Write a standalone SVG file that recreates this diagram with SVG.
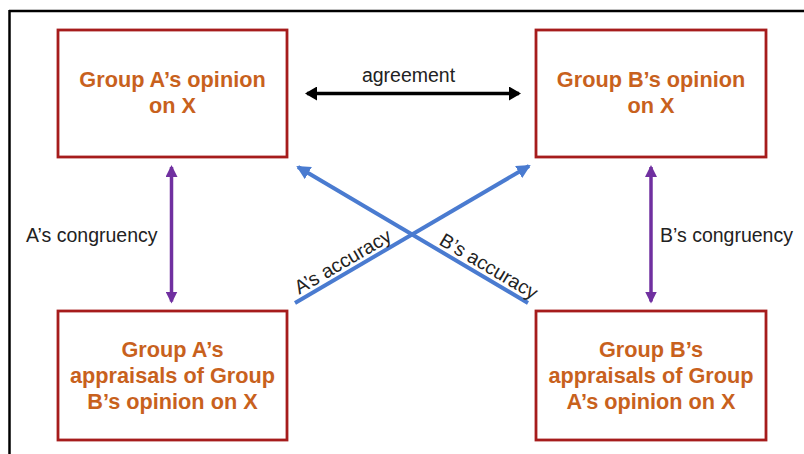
<svg xmlns="http://www.w3.org/2000/svg" width="804" height="454" viewBox="0 0 804 454">
<style>
.box{fill:#fff;stroke:#a61c1c;stroke-width:2.8}
.lbl{font-family:"Liberation Sans",Arial,sans-serif;font-weight:bold;font-size:21.7px;fill:#c8611d;text-anchor:middle}
.txt{font-family:"Liberation Sans",Arial,sans-serif;font-size:19.5px;fill:#222}
</style>
<defs>
<marker id="mk" viewBox="0 0 12 14" refX="10" refY="7" markerWidth="12" markerHeight="14" markerUnits="userSpaceOnUse" orient="auto-start-reverse"><path d="M0,0 L12,7 L0,14 Z" fill="#000"/></marker>
<marker id="mp" viewBox="0 0 12 12" refX="10" refY="6" markerWidth="12" markerHeight="12" markerUnits="userSpaceOnUse" orient="auto-start-reverse"><path d="M0,0 L12,6 L0,12 Z" fill="#7030a0"/></marker>
<marker id="mb" viewBox="0 0 14 14" refX="12" refY="7" markerWidth="14" markerHeight="14" markerUnits="userSpaceOnUse" orient="auto-start-reverse"><path d="M0,0 L14,7 L0,14 Z" fill="#4a7bd0"/></marker>
</defs>
<rect width="804" height="454" fill="#fff"/>
<g id="frame" stroke="#000" stroke-width="2.5" fill="none">
<line x1="9" y1="11" x2="804" y2="11"/>
<line x1="9.5" y1="10" x2="9.5" y2="454"/>
</g>
<g id="nodeA">
<rect class="box" x="58" y="30" width="229" height="127"/>
<text class="lbl" x="172.5" y="87">Group A’s opinion</text>
<text class="lbl" x="172.5" y="113">on X</text>
</g>
<g id="nodeB">
<rect class="box" x="536" y="30" width="230" height="127"/>
<text class="lbl" x="651" y="87">Group B’s opinion</text>
<text class="lbl" x="651" y="113">on X</text>
</g>
<g id="nodeAB">
<rect class="box" x="58" y="311" width="229" height="129"/>
<text class="lbl" x="172.5" y="357">Group A’s</text>
<text class="lbl" x="172.5" y="383">appraisals of Group</text>
<text class="lbl" x="172.5" y="409">B’s opinion on X</text>
</g>
<g id="nodeBA">
<rect class="box" x="536" y="311" width="230" height="129"/>
<text class="lbl" x="651" y="357">Group B’s</text>
<text class="lbl" x="651" y="383">appraisals of Group</text>
<text class="lbl" x="651" y="409">A’s opinion on X</text>
</g>
<g id="connectors" fill="none">
<line x1="307" y1="93.5" x2="519" y2="93.5" stroke="#000" stroke-width="3.5" marker-start="url(#mk)" marker-end="url(#mk)"/>
<line x1="171.5" y1="167" x2="171.5" y2="301.5" stroke="#7030a0" stroke-width="3.5" marker-start="url(#mp)" marker-end="url(#mp)"/>
<line x1="651" y1="167" x2="651" y2="301.5" stroke="#7030a0" stroke-width="3.5" marker-start="url(#mp)" marker-end="url(#mp)"/>
<line x1="295" y1="303" x2="529" y2="166" stroke="#4a7bd0" stroke-width="4" marker-end="url(#mb)"/>
<line x1="528" y1="303" x2="298" y2="167" stroke="#4a7bd0" stroke-width="4" marker-end="url(#mb)"/>
<text class="txt" x="408.5" y="82" text-anchor="middle">agreement</text>
<text class="txt" x="26" y="242">A’s congruency</text>
<text class="txt" x="660" y="242">B’s congruency</text>
<text class="txt" text-anchor="middle" transform="translate(348.6,271.6) rotate(-30.35)" y="-5">A’s accuracy</text>
<text class="txt" text-anchor="middle" transform="translate(483,276.3) rotate(30.6)" y="-5">B’s accuracy</text>
</g>
</svg>
